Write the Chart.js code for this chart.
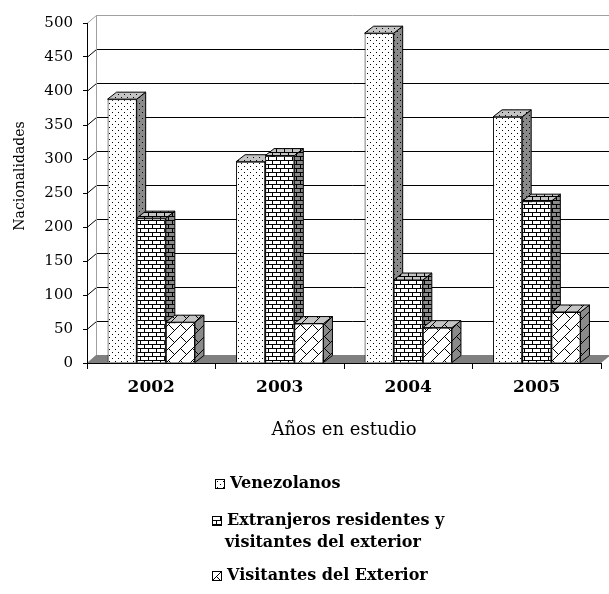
<!DOCTYPE html>
<html>
<head>
<meta charset="utf-8">
<script src="https://cdn.jsdelivr.net/npm/chart.js@4"></script>
<style>
  html, body { margin: 0; padding: 0; background: #fff; }
  #wrap { width: 609px; height: 594px; }
</style>
</head>
<body>
<div id="wrap"><canvas id="chart" width="609" height="594"></canvas></div>
<script>
const years = ['2002', '2003', '2004', '2005'];
const venezolanos = [388, 296, 485, 362];
const extranjeros = [213, 305, 122, 238];
const visitantes = [60, 58, 52, 75];
const legendNames = [
  ['Venezolanos'],
  ['Extranjeros residentes y', 'visitantes del exterior'],
  ['Visitantes del Exterior']
];
const yMax = 500;
const yStep = 50;

// hatch tiles, like the old Excel fill patterns
function makeTile(size, bg, mark) {
  const c = document.createElement('canvas');
  c.width = size; c.height = size;
  const g = c.getContext('2d');
  g.fillStyle = bg;
  g.fillRect(0, 0, size, size);
  g.fillStyle = '#000';
  for (let x = 0; x < size; x++) {
    for (let y = 0; y < size; y++) {
      if (mark(x, y)) g.fillRect(x, y, 1, 1);
    }
  }
  return c;
}

const dotMark = (x, y) => (x === 1 && y === 1) || (x === 4 && y === 4);
const brickMark = (x, y) => y === 0 || y === 4 || (x === 0 && y < 4) || (x === 4 && y > 4);
const diagBrickMark = (x, y) => {
  const s = x + y, d = x - y;
  if (s % 12 === 0) return true;
  const k = Math.floor(s / 12) % 2;
  return ((d % 24) + 24) % 24 === k * 12;
};

const marks = [[6, dotMark], [8, brickMark], [24, diagBrickMark]];
const ctx = document.getElementById('chart').getContext('2d');
const pat = (bg) => marks.map(([n, m]) => ctx.createPattern(makeTile(n, bg, m), 'repeat'));
const frontPatterns = pat('#ffffff');
const sidePatterns = pat('#8a8a8a');
const topPatterns = pat('#c4c4c4');

const DX = 9, DY = 7;   // bar depth
const WX = 9, WY = 8;   // wall depth

function poly(c, pts) {
  c.beginPath();
  c.moveTo(pts[0][0], pts[0][1]);
  for (let i = 1; i < pts.length; i++) c.lineTo(pts[i][0], pts[i][1]);
  c.closePath();
}

const depthPlugin = {
  id: 'depth',
  beforeDatasetsDraw(chart) {
    const c = chart.ctx;
    const a = chart.chartArea;
    const y = chart.scales.y;
    c.save();
    c.lineWidth = 1;

    // floor
    c.fillStyle = '#808080';
    poly(c, [[a.left, a.bottom], [a.left + WX, a.bottom - WY], [chart.width + 2, a.bottom - WY], [a.right, a.bottom]]);
    c.fill();

    // back wall + side wall grid
    y.ticks.forEach(t => {
      if (t.value === 0) return;
      const py = Math.round(y.getPixelForValue(t.value)) + 0.5;
      c.strokeStyle = t.value === yMax ? '#a0a0a0' : '#000';
      c.beginPath();
      c.moveTo(a.left, py);
      c.lineTo(a.left + WX + 0.5, py - WY);
      c.lineTo(chart.width, py - WY);
      c.stroke();
    });
    c.strokeStyle = '#a0a0a0';
    c.beginPath();
    c.moveTo(a.left + WX + 0.5, Math.round(y.getPixelForValue(yMax)) - WY);
    c.lineTo(a.left + WX + 0.5, a.bottom - WY);
    c.stroke();

    // front axes
    c.strokeStyle = '#000';
    c.beginPath();
    c.moveTo(a.left + 0.5, a.top);
    c.lineTo(a.left + 0.5, a.bottom + 0.5);
    c.lineTo(a.right, a.bottom + 0.5);
    c.stroke();

    // tops and sides, left to right so fronts cover them right
    const metas = chart.data.datasets.map((d, i) => chart.getDatasetMeta(i));
    for (let j = 0; j < years.length; j++) {
      metas.forEach((meta, i) => {
        const b = meta.data[j].getProps(['x', 'y', 'width', 'base'], true);
        const l = b.x - b.width / 2, r = b.x + b.width / 2;
        c.strokeStyle = '#000';
        c.fillStyle = sidePatterns[i];
        poly(c, [[r, b.y], [r + DX, b.y - DY], [r + DX, b.base - DY], [r, b.base]]);
        c.fill(); c.stroke();
        c.fillStyle = topPatterns[i];
        poly(c, [[l, b.y], [l + DX, b.y - DY], [r + DX, b.y - DY], [r, b.y]]);
        c.fill(); c.stroke();
      });
    }
    c.restore();
  },
  afterDraw(chart) {
    const c = chart.ctx;
    c.save();
    // y axis title
    c.fillStyle = '#000';
    c.font = "14px 'DejaVu Serif'";
    c.textAlign = 'center';
    c.textBaseline = 'middle';
    c.translate(20, 176);
    c.rotate(-Math.PI / 2);
    c.fillText('Nacionalidades', 0, 0);
    c.restore();

    // legend
    const spots = [[215, 484, 230], [212, 521, 227], [212, 576, 227]];
    c.save();
    c.font = "bold 16px 'DejaVu Serif'";
    c.textBaseline = 'middle';
    c.textAlign = 'left';
    c.lineWidth = 1;
    legendNames.forEach((lines, i) => {
      const [x, y, tx] = spots[i];
      c.fillStyle = frontPatterns[i];
      c.fillRect(x, y - 5, 10, 10);
      c.strokeStyle = '#000';
      c.strokeRect(x + 0.5, y - 4.5, 9, 9);
      c.fillStyle = '#000';
      lines.forEach((t, k) => c.fillText(t, k ? tx - 2 : tx, y + k * 22));
    });
    c.restore();
  }
};

Chart.defaults.font.family = "'DejaVu Serif', serif";
Chart.defaults.color = '#000';

new Chart(ctx, {
  type: 'bar',
  data: {
    labels: years,
    datasets: [
      { label: legendNames[0].join(' '), data: venezolanos, backgroundColor: frontPatterns[0] },
      { label: legendNames[1].join(' '), data: extranjeros, backgroundColor: frontPatterns[1] },
      { label: legendNames[2].join(' '), data: visitantes, backgroundColor: frontPatterns[2] }
    ]
  },
  options: {
    responsive: false,
    animation: false,
    events: [],
    layout: { padding: { left: 0, top: 23, right: 8, bottom: 151 } },
    datasets: {
      bar: {
        borderColor: '#000',
        borderWidth: 1,
        borderSkipped: 'start',
        categoryPercentage: 0.68,
        barPercentage: 1
      }
    },
    plugins: {
      legend: { display: false },
      tooltip: { enabled: false }
    },
    scales: {
      x: {
        offset: true,
        border: { display: false },
        grid: { offset: true, drawOnChartArea: false, drawTicks: true, tickLength: 6, color: '#000' },
        ticks: { font: { size: 17, weight: 'bold' }, padding: 8, maxRotation: 0 },
        title: { display: true, text: 'Años en estudio', font: { size: 18 }, padding: { top: 0, bottom: 2 } },
        afterFit: s => { s.height = 80; }
      },
      y: {
        min: 0,
        max: yMax,
        border: { display: false },
        grid: { drawOnChartArea: false, drawTicks: true, tickLength: 4, color: '#000' },
        ticks: { stepSize: yStep, font: { size: 15 }, padding: 10 },
        afterFit: s => { s.width = 87; }
      }
    }
  },
  plugins: [depthPlugin]
});
</script>
</body>
</html>
